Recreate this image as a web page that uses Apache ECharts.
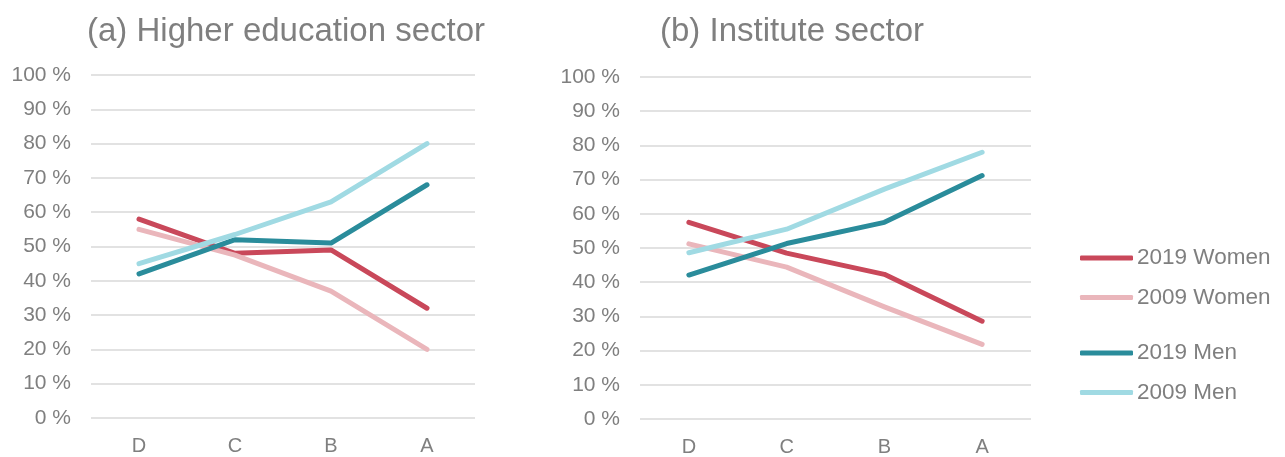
<!DOCTYPE html>
<html>
<head>
<meta charset="utf-8">
<script src="https://cdn.jsdelivr.net/npm/echarts@6/dist/echarts.min.js"></script>
<style>
html,body{margin:0;padding:0;background:#fff;}
#chart{width:1285px;height:457px;}
</style>
</head>
<body>
<div id="chart"></div>
<script>
const categories = ['D', 'C', 'B', 'A'];
const yTicks = [0, 10, 20, 30, 40, 50, 60, 70, 80, 90, 100];
const seriesNames = ['2019 Women', '2009 Women', '2019 Men', '2009 Men'];

// (a) Higher education sector
const heWomen2019 = [58, 48, 49, 32];
const heWomen2009 = [55, 47.5, 37, 20];
const heMen2019 = [42, 52, 51, 68];
const heMen2009 = [45, 53.5, 63, 80];

// (b) Institute sector
const inWomen2019 = [57.5, 48.5, 42.3, 28.6];
const inWomen2009 = [51.2, 44.4, 32.8, 21.8];
const inMen2019 = [42.1, 51.3, 57.5, 71.2];
const inMen2009 = [48.6, 55.5, 67.2, 78];

const colors = ['#C9485A', '#EAB6BB', '#2A8C9B', '#A0DAE3'];
const FONT = 'Liberation Sans, Arial, sans-serif';
const GREY = '#7F7F7F';

const chart = echarts.init(document.getElementById('chart'), null, {renderer: 'canvas'});

function mkX(gi) {
  return {
    type: 'category', gridIndex: gi, data: categories, boundaryGap: true,
    axisLine: {show: false}, axisTick: {show: false},
    axisLabel: {color: GREY, fontSize: 20, fontFamily: FONT, margin: 18}
  };
}
function mkY(gi) {
  return {
    type: 'value', gridIndex: gi, min: yTicks[0], max: yTicks[yTicks.length - 1], interval: 10,
    axisLine: {show: false}, axisTick: {show: false},
    splitLine: {lineStyle: {color: '#D9D9D9', width: 1.5}},
    axisLabel: {color: GREY, fontSize: 21, fontFamily: FONT, margin: 20, formatter: '{value} %'}
  };
}
function mkS(name, data, gi, ci) {
  return {
    name: name, type: 'line', xAxisIndex: gi, yAxisIndex: gi, data: data,
    symbol: 'none', smooth: false,
    lineStyle: {color: colors[ci], width: 5, cap: 'round', join: 'round'},
    itemStyle: {color: colors[ci]}
  };
}
function mkLegend(names, top) {
  return {
    data: names, orient: 'vertical', left: 1080, top: top, padding: 0,
    itemWidth: 53, itemHeight: 5, icon: 'roundRect', itemGap: 16.5,
    textStyle: {color: GREY, fontSize: 22.5, fontFamily: FONT, lineHeight: 23, padding: [0, 0, 0, -1]}
  };
}

const option = {
  backgroundColor: '#fff',
  animation: false,
  color: colors,
  title: [
    {text: '(a) Higher education sector', left: 82, top: 10,
     textStyle: {color: GREY, fontSize: 33, fontWeight: 'normal', fontFamily: FONT}},
    {text: '(b) Institute sector', left: 655, top: 10,
     textStyle: {color: GREY, fontSize: 33, fontWeight: 'normal', fontFamily: FONT}}
  ],
  legend: [
    mkLegend([seriesNames[0], seriesNames[1]], 246.5),
    mkLegend([seriesNames[2], seriesNames[3]], 341.5)
  ],
  grid: [
    {left: 91, right: 1285 - 475, top: 75, bottom: 457 - 418},
    {left: 640, right: 1285 - 1031, top: 77, bottom: 457 - 423}
  ],
  xAxis: [mkX(0), mkX(1)],
  yAxis: [mkY(0), mkY(1)],
  series: [
    mkS(seriesNames[0], heWomen2019, 0, 0),
    mkS(seriesNames[1], heWomen2009, 0, 1),
    mkS(seriesNames[2], heMen2019, 0, 2),
    mkS(seriesNames[3], heMen2009, 0, 3),
    mkS(seriesNames[0], inWomen2019, 1, 0),
    mkS(seriesNames[1], inWomen2009, 1, 1),
    mkS(seriesNames[2], inMen2019, 1, 2),
    mkS(seriesNames[3], inMen2009, 1, 3)
  ]
};
chart.setOption(option);
</script>
</body>
</html>
